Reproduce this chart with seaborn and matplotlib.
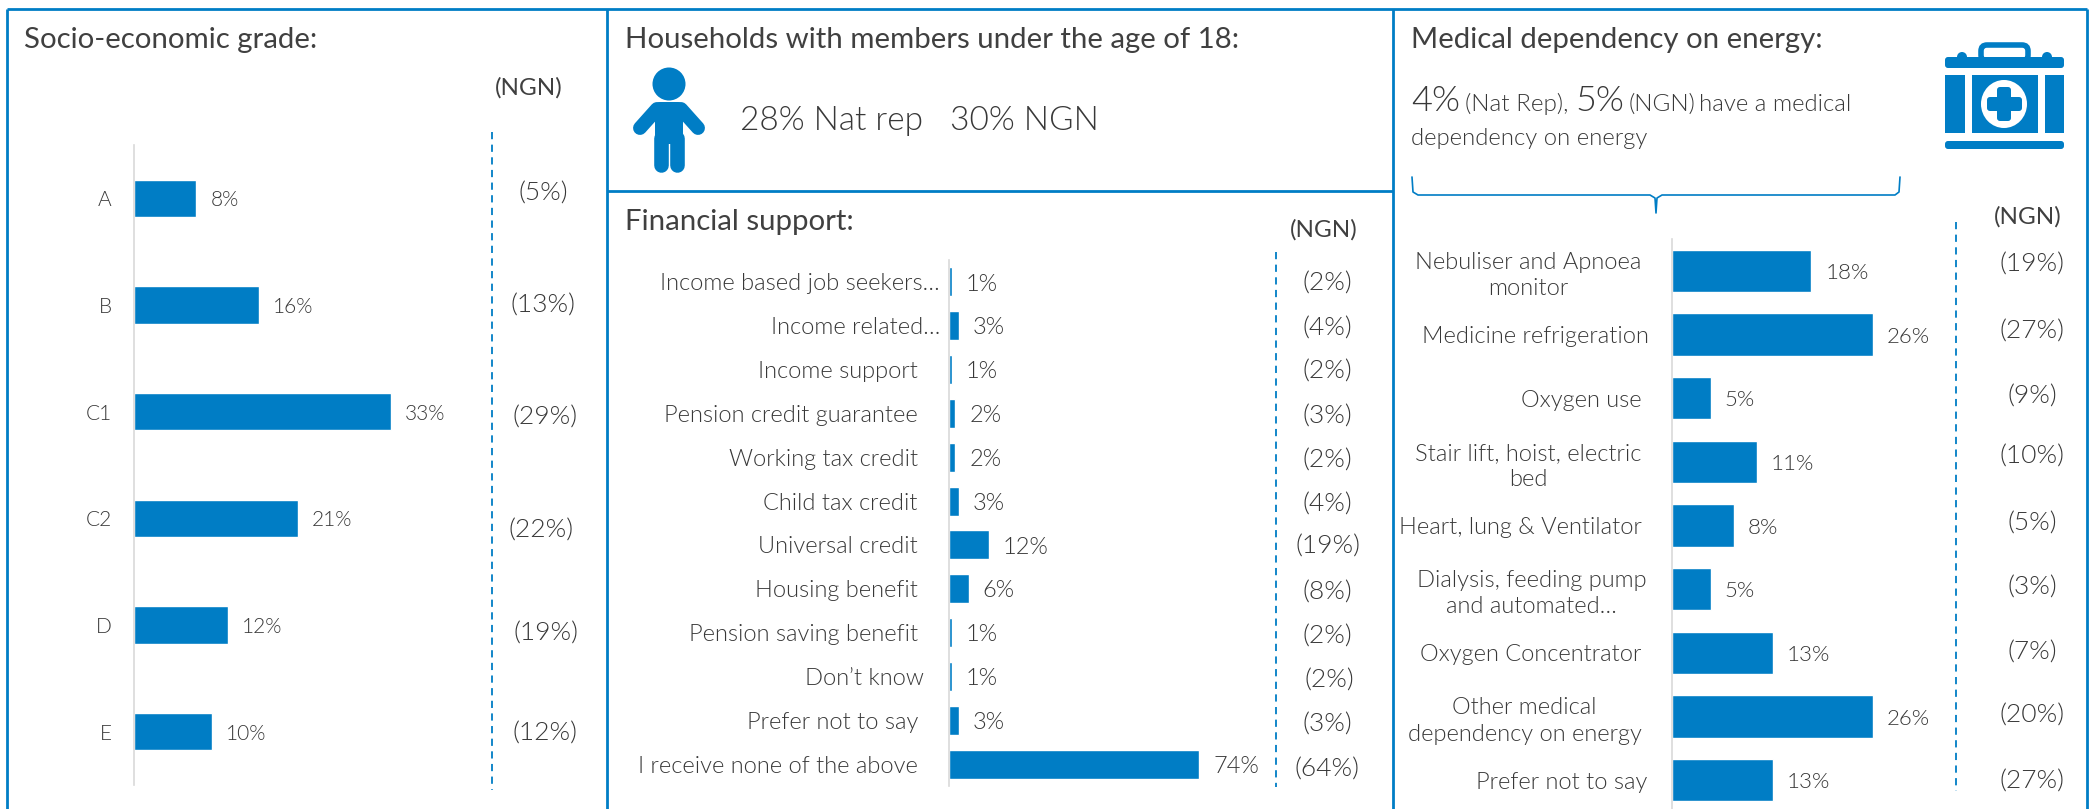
import matplotlib
matplotlib.use('Agg')
import matplotlib.pyplot as plt
from matplotlib.patches import Circle, Ellipse, FancyBboxPatch, Rectangle
from matplotlib.transforms import ScaledTranslation
import seaborn as sns
import pandas as pd

W, H = 2089, 809
BLUE = '#007DC5'
TXT = '#404040'
LIGHT = '#383838'

# Socio-economic grade
grade_labels = ['A', 'B', 'C1', 'C2', 'D', 'E']
grade_vals = [8, 16, 33, 21, 12, 10]
grade_ngn = [5, 13, 29, 22, 19, 12]

# Financial support
support_labels = ['Income based job seekers…', 'Income related…', 'Income support',
                  'Pension credit guarantee', 'Working tax credit', 'Child tax credit',
                  'Universal credit', 'Housing benefit', 'Pension saving benefit',
                  'Don’t know', 'Prefer not to say', 'I receive none of the above']
support_vals = [1, 3, 1, 2, 2, 3, 12, 6, 1, 1, 3, 74]
support_ngn = [2, 4, 2, 3, 2, 4, 19, 8, 2, 2, 3, 64]

# Medical dependency
medical_labels = ['Nebuliser and Apnoea\nmonitor', 'Medicine refrigeration', 'Oxygen use',
                  'Stair lift, hoist, electric\nbed', 'Heart, lung & Ventilator',
                  'Dialysis, feeding pump\nand automated…', 'Oxygen Concentrator',
                  'Other medical\ndependency on energy', 'Prefer not to say']
medical_vals = [18, 26, 5, 11, 8, 5, 13, 26, 13]
medical_ngn = [19, 27, 9, 10, 5, 3, 7, 20, 27]

sns.set_theme(style='white')
plt.rcParams['font.family'] = ['Lato', 'DejaVu Sans']

fig = plt.figure(figsize=(W / 100, H / 100), dpi=100)

# overlay in pixel coords for frames, headings and icons
bg = fig.add_axes([0, 0, 1, 1])
bg.set_xlim(0, W)
bg.set_ylim(H, 0)
bg.axis('off')


def panel(labels, vals, ngn, left, right, top, bottom, px_per, bar_w, pad, sizes, nudges, label_dx):
    label_size, value_size, ngn_size = sizes
    ax = fig.add_axes([left / W, 1 - bottom / H, (right - left) / W, (bottom - top) / H])
    ax.patch.set_alpha(0)
    df = pd.DataFrame({'label': labels, 'pct': vals})
    sns.barplot(data=df, x='pct', y='label', color=BLUE, saturation=1, width=bar_w, ax=ax)
    ax.set_xlim(0, (right - left) / px_per)
    ax.set_ylim(len(labels) - 0.5, -0.5)
    ax.set_xlabel('')
    ax.set_ylabel('')
    ax.set_xticks([])
    sns.despine(ax=ax, bottom=True)
    ax.spines['left'].set_color('#D9D9D9')
    ax.spines['left'].set_linewidth(1.2)
    ax.tick_params(axis='y', length=0, pad=pad)
    for t, dx in zip(ax.get_yticklabels(), label_dx):
        t.set_fontsize(label_size)
        t.set_color(LIGHT)
        t.set_fontweight(300)
        t.set_multialignment('center')
        t.set_linespacing(1.3)
        t.set_transform(t.get_transform() + ScaledTranslation(dx / 100, 0, fig.dpi_scale_trans))
    vals_txt = ax.bar_label(ax.containers[0], fmt='%g%%', padding=10, fontsize=value_size,
                            color=LIGHT, fontweight=300)
    for t in vals_txt:
        t.xyann = (t.xyann[0], -1.5)
    for i, v in enumerate(ngn):
        dx, dy = nudges[i]
        ax.annotate(f'({v}%)', xy=(1, i), xycoords=ax.get_yaxis_transform(),
                    xytext=(dx, -dy), textcoords='offset pixels', ha='center', va='center',
                    fontsize=ngn_size, color=LIGHT, fontweight=300, annotation_clip=False)
    return ax


panel(grade_labels, grade_vals, grade_ngn, 134, 545, 145, 785, 7.8, 0.35, 16, (15, 15, 19),
      [(-2, -5), (-2, 1), (0, 6), (-4, 12), (1, 9), (0, 2)], [0] * 6)
panel(support_labels, support_vals, support_ngn, 948.5, 1327, 260, 786, 3.39, 0.66, 22, (17, 17, 19),
      [(0, 2), (0, 3), (0, 2), (0, 3), (0, 3), (0, 4), (1, 2), (0, 4), (0, 4), (2, 4), (0, 4), (0, 6)],
      [22, 22, 0, 0, 0, 0, 0, 0, 0, 6, 0, 0])
panel(medical_labels, medical_vals, medical_ngn, 1672, 2032, 239, 812, 7.74, 0.66, 22, (17, 16, 19),
      [(0, -6), (0, -3), (0, -2), (0, -5), (0, -2), (0, -2), (0, 0), (0, -1), (0, 1)],
      [0, 7, 0, 0, 0, 5, 0, 0, 6])

# frames
for x0, y0, x1, y1 in [(7, 9, 2087, 9), (7, 9, 7, H), (607, 9, 607, H), (1393, 9, 1393, H),
                       (2087, 9, 2087, H), (607, 191, 1393, 191)]:
    bg.plot([x0, x1], [y0, y1], color=BLUE, lw=2, solid_capstyle='butt')

# dashed column rules
for x, y0, y1 in [(492, 132, 790), (1276, 252, 787), (1956, 222, 791)]:
    bg.plot([x, x], [y0, y1], color=BLUE, lw=1.3, ls=(0, (4, 3)))

# headings
for x, y, s in [(24, 40, 'Socio-economic grade:'),
                (625, 40, 'Households with members under the age of 18:'),
                (625, 222, 'Financial support:'),
                (1411, 40, 'Medical dependency on energy:')]:
    bg.text(x, y, s, fontsize=21.2, color=TXT, va='center')
for x, y in [(529, 88), (1324, 230), (2028, 217)]:
    bg.text(x, y, '(NGN)', fontsize=17.5, color=TXT, va='center', ha='center')

bg.text(740, 121, '28% Nat rep   30% NGN', fontsize=24, color=LIGHT, va='center', fontweight=300)

bg.text(1411, 111, '4%', fontsize=26, color=LIGHT, fontweight=300)
bg.text(1465, 111, '(Nat Rep),', fontsize=17.5, color=LIGHT, fontweight=300)
bg.text(1575, 111, '5%', fontsize=26, color=LIGHT, fontweight=300)
bg.text(1629, 111, '(NGN)', fontsize=17.5, color=LIGHT, fontweight=300)
bg.text(1699, 111, 'have a medical', fontsize=17.2, color=LIGHT, fontweight=300)
bg.text(1411, 145, 'dependency on energy', fontsize=17.2, color=LIGHT, fontweight=300)

# brace
bg.plot([1412, 1413, 1418, 1650, 1655, 1656, 1657, 1662, 1895, 1899, 1900],
        [177, 192, 195, 195, 198, 213, 198, 195, 195, 192, 177], color=BLUE, lw=1.2)

# child icon
bg.add_patch(Ellipse((669, 84), 33, 33, color=BLUE, lw=0))
bg.add_patch(FancyBboxPatch((655, 102), 28, 42, boxstyle='round,pad=0,rounding_size=5', color=BLUE, lw=0))
bg.plot([657, 640], [109, 128], color=BLUE, lw=10, solid_capstyle='round')
bg.plot([681, 698], [109, 128], color=BLUE, lw=10, solid_capstyle='round')
bg.plot([661, 661], [138, 165], color=BLUE, lw=10.5, solid_capstyle='round')
bg.plot([677, 677], [138, 165], color=BLUE, lw=10.5, solid_capstyle='round')

# first aid kit icon
bg.add_patch(FancyBboxPatch((1981, 45), 47, 16, boxstyle='round,pad=0,rounding_size=6',
                            fc='none', ec=BLUE, lw=4))
bg.add_patch(FancyBboxPatch((1945, 57), 119, 11, boxstyle='round,pad=0,rounding_size=3', color=BLUE, lw=0))
bg.add_patch(Circle((1962, 57), 5, color=BLUE, lw=0))
bg.add_patch(Circle((2047, 57), 5, color=BLUE, lw=0))
bg.add_patch(Rectangle((1945, 75), 20, 58, color=BLUE, lw=0))
bg.add_patch(Rectangle((1972, 75), 66, 58, color=BLUE, lw=0))
bg.add_patch(Rectangle((2044.5, 75), 19.5, 58, color=BLUE, lw=0))
bg.add_patch(FancyBboxPatch((1945, 141), 119, 8, boxstyle='round,pad=0,rounding_size=3', color=BLUE, lw=0))
bg.add_patch(Ellipse((2004, 104), 46, 48, color='white', lw=0))
bg.add_patch(FancyBboxPatch((1997, 87), 14, 34, boxstyle='round,pad=0,rounding_size=3', color=BLUE, lw=0))
bg.add_patch(FancyBboxPatch((1987, 97), 35, 14, boxstyle='round,pad=0,rounding_size=3', color=BLUE, lw=0))

fig.savefig('out.png', dpi=100)
